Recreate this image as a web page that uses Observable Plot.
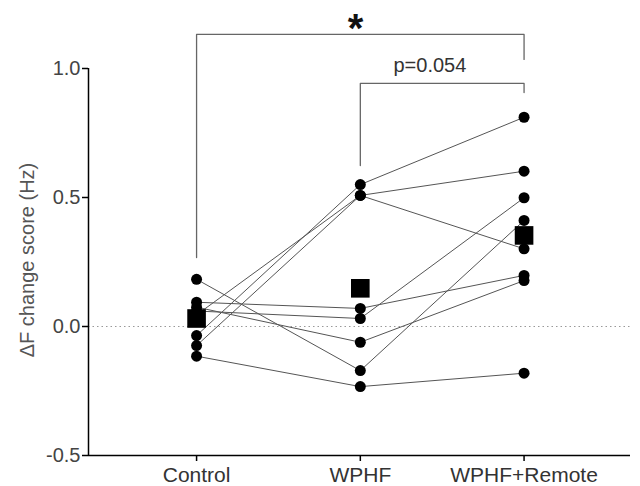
<!DOCTYPE html>
<html>
<head>
<meta charset="utf-8">
<script src="https://cdn.jsdelivr.net/npm/d3@7"></script>
<script src="https://cdn.jsdelivr.net/npm/@observablehq/plot@0.6"></script>
<style>
  html, body { margin: 0; padding: 0; background: #fff; }
  svg { font-family: "Liberation Sans", Arial, sans-serif; }
</style>
</head>
<body>
<div id="chart"></div>
<script>
const categories = ["Control", "WPHF", "WPHF+Remote"];
// per-subject values: [Control, WPHF, WPHF+Remote]
const subjects = ["S1","S2","S3","S4","S5","S6","S7","S8"];
const controlValues = [0.183, -0.115, -0.035, -0.074, 0.045, 0.094, 0.075, 0.06];
const wphfValues    = [-0.171, -0.233, 0.55, 0.508, 0.508, 0.07, -0.061, 0.031];
const remoteValues  = [0.411, -0.181, 0.811, 0.602, 0.301, 0.198, 0.178, 0.499];
const meanValues    = [0.031, 0.148, 0.353];
const yTicks = [-0.5, 0, 0.5, 1.0];
const yLabel = "ΔF change score (Hz)";
const sigLabels = ["*", "p=0.054"];

const rows = [];
subjects.forEach((s, i) => {
  [controlValues, wphfValues, remoteValues].forEach((arr, k) => {
    rows.push({subject: s, x: k, y: arr[i]});
  });
});
const means = meanValues.map((v, k) => ({x: k, y: v}));

const bracket1 = [{x:0,y:0.267},{x:0,y:1.132},{x:2,y:1.132},{x:2,y:1.035}];
const bracket2 = [{x:1,y:0.624},{x:1,y:0.942},{x:2,y:0.942},{x:2,y:0.907}];

const chart = Plot.plot({
  width: 640,
  height: 486,
  marginLeft: 88,
  marginRight: 10,
  marginTop: 68,
  marginBottom: 31,
  style: {fontFamily: "Liberation Sans, Arial, sans-serif", background: "#fff"},
  x: {domain: [-0.66, 2.65], axis: null},
  y: {domain: [-0.5, 1.0], axis: null},
  marks: [
    Plot.ruleY([0], {stroke: "#999", strokeDasharray: "1.5,3", strokeWidth: 1}),
    Plot.line(rows, {x: "x", y: "y", z: "subject", stroke: "#555", strokeWidth: 1}),
    Plot.dot(rows, {x: "x", y: "y", r: 5.5, fill: "#000", stroke: "none"}),
    Plot.dot(means, {x: "x", y: "y", symbol: "square", r: 10.5, fill: "#000", stroke: "none"}),
    Plot.line(bracket1, {x: "x", y: "y", stroke: "#666", strokeWidth: 1.3}),
    Plot.line(bracket2, {x: "x", y: "y", stroke: "#666", strokeWidth: 1.3}),
    Plot.text([sigLabels[0]], {x: [0.97], y: [1.153], text: d => d, fontSize: 40, fontWeight: "bold", fill: "#111", lineAnchor: "middle"}),
    Plot.text([sigLabels[1]], {x: [1.425], y: [1.012], text: d => d, fontSize: 20, fill: "#333", lineAnchor: "middle"}),
    Plot.ruleX([-0.66], {y1: -0.5, y2: 1.0, stroke: "#000", strokeWidth: 1.5}),
    Plot.ruleY([-0.5], {stroke: "#000", strokeWidth: 1.5}),
    Plot.axisY({ticks: yTicks, tickFormat: d => d.toFixed(1), tickSize: 6, tickPadding: 2, fontSize: 20, color: "#444", stroke: "#000", strokeWidth: 1.5, label: null}),
    Plot.axisX({ticks: [0, 1, 2], tickFormat: i => categories[i], tickSize: 6, tickPadding: 6, fontSize: 21, color: "#333", stroke: "#000", strokeWidth: 1.5, label: null}),
    Plot.text([yLabel], {frameAnchor: "left", textAnchor: "middle", lineAnchor: "middle", dx: -61, dy: -2, rotate: -90, text: d => d, fontSize: 20, fill: "#555"})
  ]
});
document.getElementById("chart").appendChild(chart);
</script>
</body>
</html>
